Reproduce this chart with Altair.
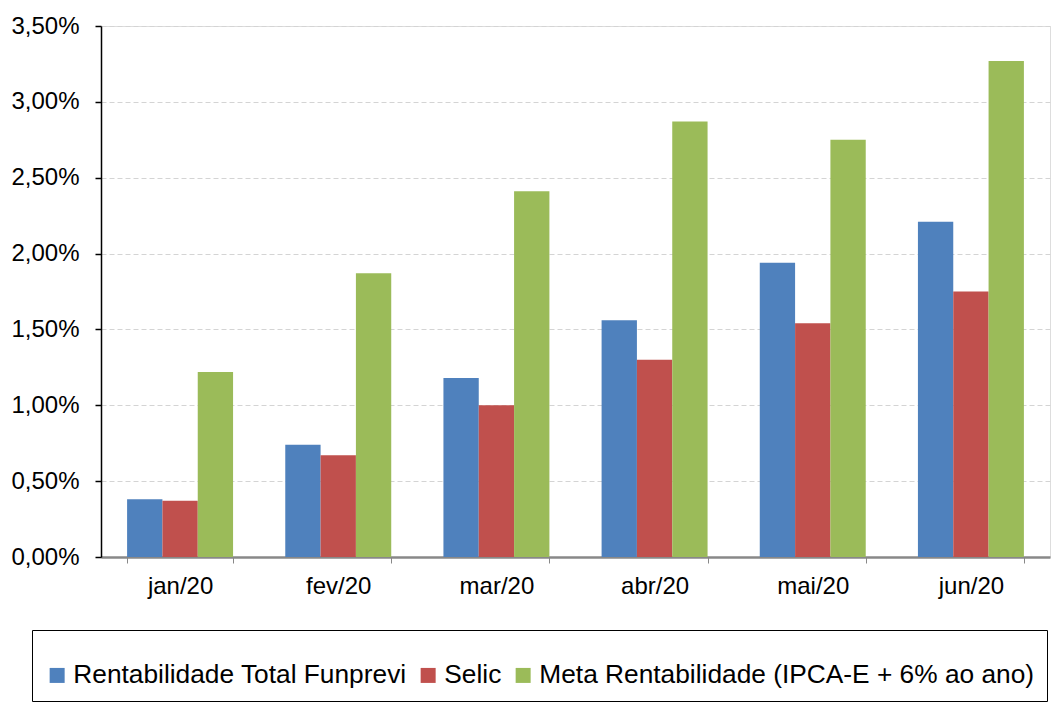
import altair as alt
import pandas as pd

months = ["jan/20", "fev/20", "mar/20", "abr/20", "mai/20", "jun/20"]
series = [
    "Rentabilidade Total Funprevi",
    "Selic",
    "Meta Rentabilidade (IPCA-E + 6% ao ano)",
]
funprevi = [0.38, 0.74, 1.18, 1.56, 1.94, 2.21]
selic = [0.37, 0.67, 1.00, 1.30, 1.54, 1.75]
meta = [1.22, 1.87, 2.41, 2.87, 2.75, 3.27]
colors = ["#4F81BD", "#C0504D", "#9BBB59"]
y_ticks = [0, 0.5, 1.0, 1.5, 2.0, 2.5, 3.0, 3.5]

rows = []
for vals, s in zip([funprevi, selic, meta], series):
    for m, v in zip(months, vals):
        rows.append({"mes": m, "serie": s, "valor": v})
df = pd.DataFrame(rows)

FONT = "Liberation Sans"

chart = (
    alt.Chart(df)
    .mark_bar()
    .encode(
        x=alt.X(
            "mes:N",
            sort=months,
            title=None,
            scale=alt.Scale(paddingInner=0.33, paddingOuter=0.165),
            axis=alt.Axis(
                labelAngle=0,
                labelFont=FONT,
                labelFontSize=24,
                labelColor="#000000",
                labelPadding=11,
                tickBand="extent",
                tickSize=6,
                tickColor="#888888",
                tickWidth=1,
                domainColor="#888888",
                domainWidth=2.5,
                grid=False,
            ),
        ),
        xOffset=alt.XOffset("serie:N", sort=series),
        y=alt.Y(
            "valor:Q",
            title=None,
            scale=alt.Scale(domain=[0, 3.5], nice=False),
            axis=alt.Axis(
                values=y_ticks,
                labelExpr="replace(format(datum.value, '.2f'), '.', ',') + '%'",
                labelFont=FONT,
                labelFontSize=24,
                labelColor="#000000",
                labelPadding=16,
                tickSize=6,
                tickColor="#000000",
                tickWidth=1.5,
                domainColor="#000000",
                domainWidth=1.5,
                grid=True,
                gridColor="#d4d4d4",
                gridDash=[5, 3],
                gridWidth=1,
            ),
        ),
        color=alt.Color(
            "serie:N",
            sort=series,
            scale=alt.Scale(domain=series, range=colors),
            legend=alt.Legend(
                title=" ",
                titleFontSize=11,
                titlePadding=9,
                orient="none",
                legendX=-69,
                legendY=604,
                direction="horizontal",
                strokeColor="#000000",
                padding=12,
                symbolType="square",
                symbolSize=225,
                symbolStrokeWidth=0,
                labelFont=FONT,
                labelFontSize=26.3,
                labelColor="#000000",
                labelOffset=3,
                labelLimit=800,
                columnPadding=8,
            ),
        ),
    )
    .properties(
        width=949,
        height=531,
        autosize=alt.AutoSizeParams(type="none"),
        padding={"left": 93, "top": 18, "right": 6, "bottom": 161},
    )
    .configure_view(stroke="#808080", strokeWidth=1.5)
    .configure(background="#ffffff")
)

chart.save("out.html", embed_options={"renderer": "svg", "actions": False})
